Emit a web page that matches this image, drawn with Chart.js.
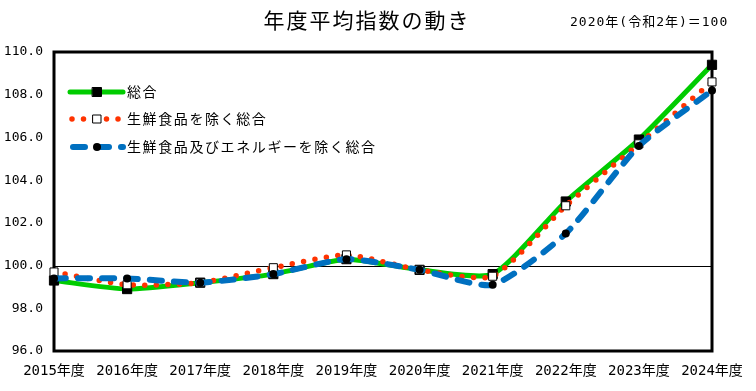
<!DOCTYPE html>
<html>
<head>
<meta charset="utf-8">
<script src="https://cdn.jsdelivr.net/npm/chart.js@4/dist/chart.umd.min.js"></script>
<style>
  html, body { margin: 0; padding: 0; background: #fff; }
  #wrap { width: 756px; height: 391px; position: relative; }
</style>
</head>
<body>
<div id="wrap"><canvas id="chart" width="756" height="391"></canvas></div>
<script>
// data (2020 = 100)
const years = ['2015年度', '2016年度', '2017年度', '2018年度', '2019年度',
               '2020年度', '2021年度', '2022年度', '2023年度', '2024年度'];
const sogo      = [99.3, 98.9, 99.2, 99.6, 100.3, 99.8, 99.6, 103.0, 105.9, 109.4];
const coreCPI   = [99.7, 99.1, 99.2, 99.9, 100.5, 99.8, 99.5, 102.8, 105.7, 108.6];
const coreCore  = [99.4, 99.4, 99.2, 99.6, 100.3, 99.8, 99.1, 101.5, 105.6, 108.2];
const seriesNames = ['総合', '生鮮食品を除く総合', '生鮮食品及びエネルギーを除く総合'];
const yTicks = [96, 98, 100, 102, 104, 106, 108, 110];

const titleText = '年度平均指数の動き';
const baseText = '2020年(令和2年)＝100';

const GREEN = '#00cc00';
const ORANGE = '#ff3300';
const BLUE = '#0070c0';
const MONO = '"DejaVu Sans Mono", "Noto Sans CJK JP", sans-serif';
const JP = '"Noto Sans CJK JP", sans-serif';
const SMOOTH = 0.2;

// helpers for the hand drawn legend samples
function drawSquare(ctx, x, y, s, fill) {
    ctx.fillStyle = fill;
    ctx.fillRect(x - s / 2, y - s / 2, s, s);
    ctx.strokeStyle = '#000';
    ctx.lineWidth = 1;
    ctx.strokeRect(x - s / 2, y - s / 2, s, s);
}

const framePlugin = {
    id: 'frame',
    beforeDatasetsDraw(chart) {
        const { ctx, chartArea: a, scales: { y } } = chart;
        ctx.save();
        // reference line at 100
        const y100 = Math.round(y.getPixelForValue(100)) + 0.5;
        ctx.strokeStyle = '#000';
        ctx.lineWidth = 1;
        ctx.beginPath();
        ctx.moveTo(a.left, y100);
        ctx.lineTo(a.right, y100);
        ctx.stroke();
        // plot frame
        ctx.lineWidth = 3;
        ctx.strokeRect(a.left, a.top, a.right - a.left, a.bottom - a.top);
        ctx.restore();
    },
    afterDraw(chart) {
        const { ctx } = chart;
        ctx.save();
        ctx.fillStyle = '#000';
        ctx.textBaseline = 'middle';

        // title
        ctx.font = '21px ' + JP;
        ctx.letterSpacing = '2px';
        ctx.textAlign = 'center';
        ctx.fillText(titleText, 367, 20);

        // base year note
        ctx.font = '13px ' + MONO;
        ctx.letterSpacing = '1px';
        ctx.textAlign = 'left';
        ctx.fillText(baseText, 570, 23);

        // legend
        const lx0 = 70, lx1 = 123, mx = 97, tx = 127;
        const rows = [92, 119, 147];
        ctx.lineJoin = 'round';

        // 総合
        ctx.strokeStyle = GREEN;
        ctx.lineWidth = 5;
        ctx.setLineDash([]);
        ctx.lineCap = 'round';
        ctx.beginPath(); ctx.moveTo(lx0, rows[0]); ctx.lineTo(lx1, rows[0]); ctx.stroke();
        drawSquare(ctx, mx, rows[0], 9, '#000');

        // 生鮮食品を除く総合
        ctx.strokeStyle = ORANGE;
        ctx.lineWidth = 5.5;
        ctx.setLineDash([0, 11.5]);
        ctx.beginPath(); ctx.moveTo(lx0 + 2, rows[1]); ctx.lineTo(lx1, rows[1]); ctx.stroke();
        ctx.setLineDash([]);
        drawSquare(ctx, mx, rows[1], 8, '#fff');

        // 生鮮食品及びエネルギーを除く総合
        ctx.strokeStyle = BLUE;
        ctx.lineWidth = 6;
        ctx.setLineDash([12, 12]);
        ctx.beginPath(); ctx.moveTo(lx0 + 3, rows[2]); ctx.lineTo(lx1, rows[2]); ctx.stroke();
        ctx.setLineDash([]);
        ctx.fillStyle = '#000';
        ctx.beginPath(); ctx.arc(mx, rows[2], 4, 0, Math.PI * 2); ctx.fill();

        ctx.fillStyle = '#000';
        ctx.font = '14px ' + JP;
        ctx.letterSpacing = '1.6px';
        ctx.textAlign = 'left';
        seriesNames.forEach((name, i) => ctx.fillText(name, tx, rows[i]));
        ctx.restore();
    }
};

const ctx = document.getElementById('chart').getContext('2d');
new Chart(ctx, {
    type: 'line',
    data: {
        labels: years,
        datasets: [{
            label: seriesNames[0],
            data: sogo,
            borderColor: GREEN,
            borderWidth: 5,
            tension: SMOOTH,
            pointStyle: 'rect',
            pointRadius: 6.5,
            pointBackgroundColor: '#000',
            pointBorderColor: '#000',
            pointBorderWidth: 1,
            order: 3
        }, {
            label: seriesNames[1],
            data: coreCPI,
            borderColor: ORANGE,
            borderWidth: 5.5,
            borderDash: [0, 11.5],
            borderCapStyle: 'round',
            tension: SMOOTH,
            pointStyle: 'rect',
            pointRadius: 5.7,
            pointBackgroundColor: '#fff',
            pointBorderColor: '#000',
            pointBorderWidth: 1,
            order: 2
        }, {
            label: seriesNames[2],
            data: coreCore,
            borderColor: BLUE,
            borderWidth: 6,
            borderDash: [12, 12],
            borderCapStyle: 'round',
            tension: SMOOTH,
            pointStyle: 'circle',
            pointRadius: 4,
            pointBackgroundColor: '#000',
            pointBorderColor: '#000',
            pointBorderWidth: 0,
            order: 1
        }]
    },
    options: {
        responsive: false,
        animation: false,
        layout: { padding: { left: 0, right: 44, top: 52, bottom: 0 } },
        plugins: {
            legend: { display: false },
            title: { display: false },
            tooltip: { enabled: false }
        },
        scales: {
            x: {
                offset: false,
                grid: { display: false, drawTicks: false },
                border: { display: false },
                ticks: {
                    color: '#000',
                    padding: 12,
                    maxRotation: 0,
                    autoSkip: false,
                    font: { family: MONO, size: 14 }
                },
                afterFit: s => { s.height = 40; }
            },
            y: {
                min: yTicks[0],
                max: yTicks[yTicks.length - 1],
                grid: { display: false, drawTicks: false },
                border: { display: false },
                afterBuildTicks: s => { s.ticks = yTicks.map(v => ({ value: v })); },
                ticks: {
                    color: '#000',
                    padding: 11,
                    font: { family: MONO, size: 13 },
                    callback: v => Number(v).toFixed(1)
                },
                afterFit: s => { s.width = 54; }
            }
        }
    },
    plugins: [framePlugin]
});
</script>
</body>
</html>
